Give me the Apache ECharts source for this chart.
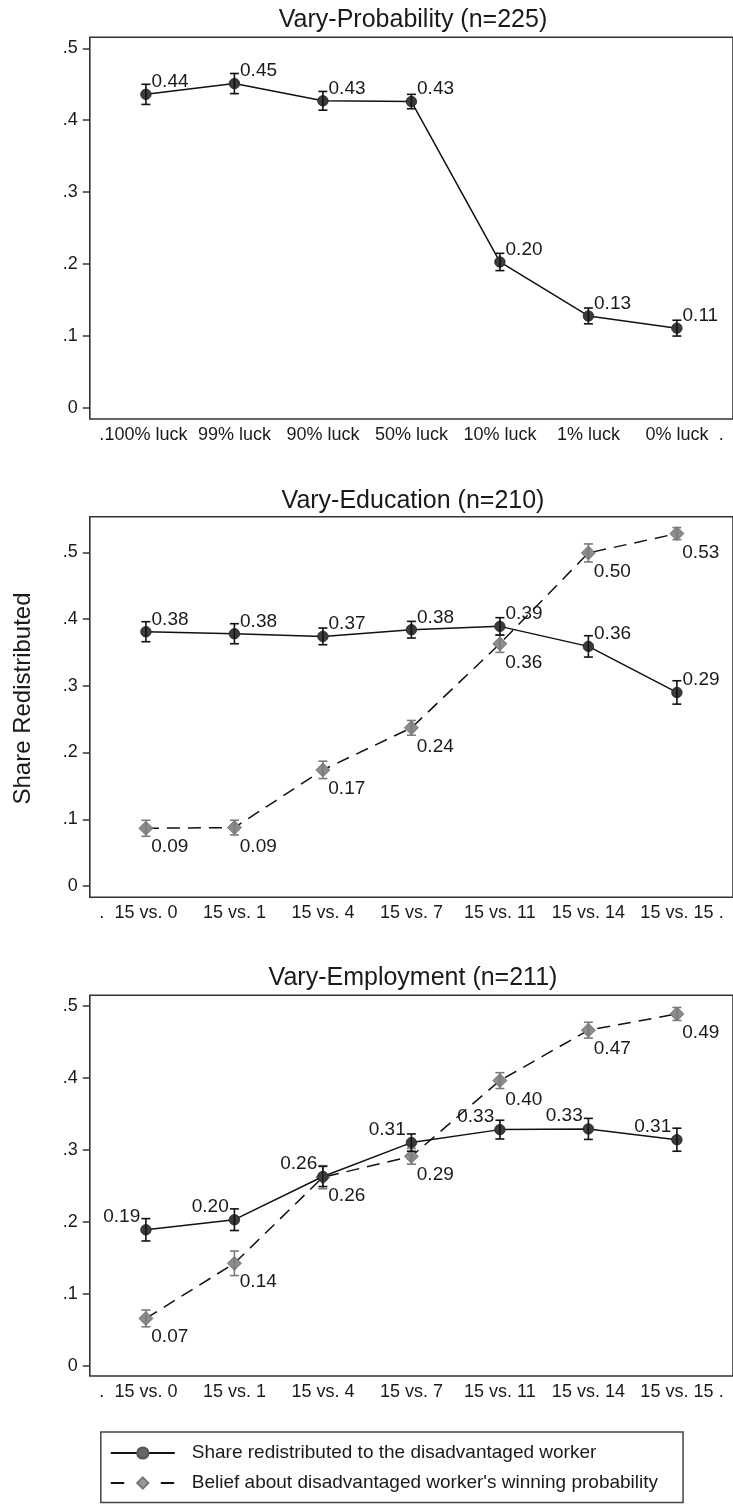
<!DOCTYPE html>
<html>
<head>
<meta charset="utf-8">
<script src="https://cdn.jsdelivr.net/npm/echarts@6/dist/echarts.min.js"></script>
<style>html,body{margin:0;padding:0;background:#fff}#c{width:733px;height:1506px}</style>
</head>
<body>
<div id="c"></div>
<script>
const FONT = '"Liberation Sans", Arial, sans-serif';

// ---- data ----
const probCategories = ['100% luck', '99% luck', '90% luck', '50% luck', '10% luck', '1% luck', '0% luck'];
const eduCategories = ['15 vs. 0', '15 vs. 1', '15 vs. 4', '15 vs. 7', '15 vs. 11', '15 vs. 14', '15 vs. 15'];
const empCategories = ['15 vs. 0', '15 vs. 1', '15 vs. 4', '15 vs. 7', '15 vs. 11', '15 vs. 14', '15 vs. 15'];

const probShare   = [0.436, 0.451, 0.427, 0.426, 0.203, 0.128, 0.111];
const probShareCI = [0.014, 0.014, 0.013, 0.010, 0.012, 0.011, 0.011];

const eduShare    = [0.381, 0.378, 0.374, 0.384, 0.389, 0.359, 0.290];
const eduShareCI  = [0.015, 0.015, 0.0125, 0.0125, 0.013, 0.016, 0.0175];
const eduBelief   = [0.0865, 0.0875, 0.174, 0.237, 0.363, 0.499, 0.528];
const eduBeliefCI = [0.012, 0.011, 0.013, 0.011, 0.013, 0.0135, 0.009];

const empShare    = [0.189, 0.203, 0.263, 0.310, 0.328, 0.329, 0.314];
const empShareCI  = [0.0155, 0.015, 0.014, 0.012, 0.013, 0.0146, 0.016];
const empBelief   = [0.066, 0.1425, 0.262, 0.291, 0.396, 0.466, 0.4885];
const empBeliefCI = [0.0116, 0.017, 0.016, 0.011, 0.011, 0.011, 0.009];

const yTickValues = [0, 0.1, 0.2, 0.3, 0.4, 0.5];
const xLabelValues = [0.5, 1, 2, 3, 4, 5, 6, 7, 7.5];

const SHARE_NAME = 'Share redistributed to the disadvantaged worker';
const BELIEF_NAME = "Belief about disadvantaged worker's winning probability";

// ---- layout ----
const panels = [
  { title: 'Vary-Probability (n=225)', cats: probCategories, top: 37.3, height: 381.7, min: -0.0153, max: 0.5153, titleY: 20.5,
    share: probShare, shareCI: probShareCI, shareLabel: 'right', belief: null },
  { title: 'Vary-Education (n=210)', cats: eduCategories, top: 516.7, height: 380.6, min: -0.0169, max: 0.5533, titleY: 501.7,
    share: eduShare, shareCI: eduShareCI, shareLabel: 'right', belief: eduBelief, beliefCI: eduBeliefCI },
  { title: 'Vary-Employment (n=211)', cats: empCategories, top: 995.3, height: 380.7, min: -0.0139, max: 0.5144, titleY: 978.3,
    share: empShare, shareCI: empShareCI, shareLabel: 'left', belief: empBelief, beliefCI: empBeliefCI }
];

const TXT = '#1a1a1a';
const AX = '#333';

function errorBarRender(color) {
  return function (params, api) {
    const x = api.value(0);
    const lo = api.coord([x, api.value(1)]);
    const hi = api.coord([x, api.value(2)]);
    const hw = 4.5;
    const st = { stroke: color, lineWidth: 1.6, fill: null };
    return {
      type: 'group',
      children: [
        { type: 'line', shape: { x1: lo[0], y1: lo[1], x2: hi[0], y2: hi[1] }, style: st },
        { type: 'line', shape: { x1: lo[0] - hw, y1: lo[1], x2: lo[0] + hw, y2: lo[1] }, style: st },
        { type: 'line', shape: { x1: hi[0] - hw, y1: hi[1], x2: hi[0] + hw, y2: hi[1] }, style: st }
      ]
    };
  };
}

const grid = [], xAxis = [], yAxis = [], series = [], title = [];
panels.forEach((p, gi) => {
  grid.push({ left: 89.8, right: -4.2, top: p.top, height: p.height, show: true,
    borderColor: AX, borderWidth: 1.6, backgroundColor: 'transparent' });
  title.push({ text: p.title, left: 413, top: p.titleY - 13, textAlign: 'center', padding: 0,
    textStyle: { fontSize: 25, fontWeight: 'normal', fontFamily: FONT, color: TXT } });
  xAxis.push({
    type: 'value', gridIndex: gi, min: 0.366, max: 7.634,
    axisLine: { show: false }, axisTick: { show: false }, splitLine: { show: false },
    axisLabel: {
      customValues: xLabelValues, fontSize: 18, fontFamily: FONT, color: TXT, margin: 7,
      formatter: (v) => (v < 1 || v > 7) ? '.' : p.cats[Math.round(v) - 1]
    }
  });
  yAxis.push({
    type: 'value', gridIndex: gi, min: p.min, max: p.max,
    axisLine: { show: false }, splitLine: { show: false },
    axisTick: { show: true, customValues: yTickValues, length: 7, lineStyle: { color: AX, width: 1.5 } },
    axisLabel: {
      customValues: yTickValues, fontSize: 18, fontFamily: FONT, color: TXT, margin: 12,
      formatter: (v) => v === 0 ? '0' : '.' + Math.round(v * 10)
    }
  });

  const shareLabelCfg = p.shareLabel === 'right'
    ? { position: 'right', distance: 0, offset: [0, -12.3] }
    : { position: 'left', distance: 0, offset: [0, -12.8] };

  series.push({
    name: SHARE_NAME, type: 'line', xAxisIndex: gi, yAxisIndex: gi,
    data: p.share.map((v, i) => [i + 1, v]),
    symbol: 'circle', symbolSize: 10.5, z: 3,
    lineStyle: { color: '#111', width: 1.5 },
    itemStyle: { color: '#3c3c3c', borderColor: '#222', borderWidth: 0.8 },
    label: Object.assign({ show: true, fontSize: 19, fontFamily: FONT, color: TXT,
      formatter: (d) => d.value[1].toFixed(2) }, shareLabelCfg),
    emphasis: { disabled: true }
  });
  series.push({
    name: 'ci-share-' + gi, type: 'custom', xAxisIndex: gi, yAxisIndex: gi, z: 5,
    data: p.share.map((v, i) => [i + 1, v - p.shareCI[i], v + p.shareCI[i]]),
    encode: { x: 0, y: [1, 2] },
    renderItem: errorBarRender('#111')
  });
  if (p.belief) {
    series.push({
      name: BELIEF_NAME, type: 'line', xAxisIndex: gi, yAxisIndex: gi,
      data: p.belief.map((v, i) => [i + 1, v]),
      symbol: 'diamond', symbolSize: 14, z: 2,
      lineStyle: { color: '#111', width: 1.5, type: [13, 8] },
      itemStyle: { color: '#8c8c8c', borderColor: '#666', borderWidth: 0.8 },
      label: { show: true, position: 'right', distance: -2, offset: [0, 18.8],
        fontSize: 19, fontFamily: FONT, color: TXT,
        formatter: (d) => d.value[1].toFixed(2) },
      emphasis: { disabled: true }
    });
    series.push({
      name: 'ci-belief-' + gi, type: 'custom', xAxisIndex: gi, yAxisIndex: gi, z: 4,
      data: p.belief.map((v, i) => [i + 1, v - p.beliefCI[i], v + p.beliefCI[i]]),
      encode: { x: 0, y: [1, 2] },
      renderItem: errorBarRender('#7a7a7a')
    });
  }
});

const chart = echarts.init(document.getElementById('c'), null, { renderer: 'canvas' });
chart.setOption({
  animation: false,
  backgroundColor: '#fff',
  title: title,
  grid: grid,
  xAxis: xAxis,
  yAxis: yAxis,
  series: series,
  legend: {
    orient: 'vertical', left: 100.8, top: 1432,
    padding: [11.5, 25, 10, 9], itemGap: 11,
    itemWidth: 64, itemHeight: 14,
    borderColor: '#444', borderWidth: 1.5, backgroundColor: '#fff',
    selectedMode: false,
    textStyle: { fontSize: 19, fontFamily: FONT, color: TXT, padding: [0, 0, 0, 12] },
    data: [
      { name: SHARE_NAME, lineStyle: { type: 'solid' }, itemStyle: { color: '#666', borderColor: '#555' } },
      { name: BELIEF_NAME, lineStyle: { type: [13.4, 36.6] }, itemStyle: { color: '#999', borderColor: '#777' } }
    ]
  },
  graphic: [{
    type: 'text', x: 23, y: 698.5, rotation: Math.PI / 2,
    style: { text: 'Share Redistributed', fontSize: 24, fontFamily: FONT, fill: TXT,
      align: 'center', verticalAlign: 'middle' }
  }]
});
</script>
</body>
</html>
